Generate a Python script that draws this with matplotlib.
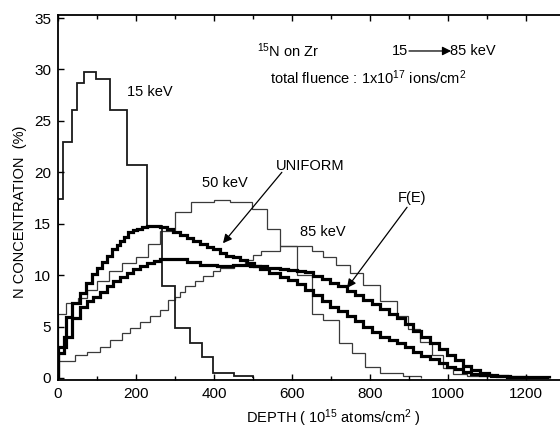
import matplotlib
matplotlib.use("Agg")
import matplotlib.pyplot as plt

plt.rcParams["font.family"] = ["Liberation Sans", "DejaVu Sans"]
plt.rcParams["mathtext.default"] = "regular"

# depth bin edges (1e15 atoms/cm2) and N concentration (%)
kev15_edges = [0, 8, 13, 36, 49, 67, 97, 133, 177, 228, 267, 300, 338, 369, 397, 450, 500]
kev15_vals = [17.4, 17.4, 22.9, 26.1, 28.7, 29.8, 29.1, 26.1, 20.7, 14.8, 8.9, 4.9, 3.4, 2.0, 0.5, 0.15]

kev50_edges = [0, 20, 50, 75, 100, 130, 165, 200, 230, 262, 300, 340, 400, 440, 497,
               536, 569, 613, 651, 680, 720, 754, 787, 826, 885, 930]
kev50_vals = [6.2, 7.3, 7.8, 8.6, 9.4, 10.4, 11.2, 11.8, 13.0, 14.3, 16.1, 17.1, 17.3, 17.1,
              16.4, 14.5, 12.8, 10.0, 6.2, 5.6, 3.4, 2.4, 1.1, 0.5, 0.2]

kev85_edges = [0, 44, 74, 108, 133, 164, 185, 210, 236, 262, 282, 300, 313, 326, 351, 372,
               397, 415, 450, 480, 500, 520, 569, 651, 680, 713, 749, 782, 826, 869, 897,
               928, 959, 987, 1013, 1049, 1100]
kev85_vals = [1.6, 2.2, 2.5, 3.0, 3.7, 4.4, 4.9, 5.4, 6.0, 6.6, 7.6, 7.9, 8.4, 8.9, 9.4,
              9.9, 10.4, 10.7, 11.0, 11.5, 12.0, 12.3, 12.8, 12.3, 11.8, 11.0, 10.2, 9.0,
              7.5, 6.0, 4.8, 3.5, 2.2, 1.0, 0.4, 0.15]

uniform_edges = [0, 20, 36, 56, 72, 87, 100, 113, 126, 138, 150, 159, 170, 179, 192, 203,
                 215, 228, 245, 262, 279, 296, 313, 330, 346, 364, 382, 398, 415, 432, 449,
                 467, 485, 502, 518, 540, 569, 591, 613, 634, 654, 676, 697, 719, 741, 762,
                 782, 804, 826, 848, 869, 890, 910, 932, 954, 976, 997, 1018, 1038, 1060,
                 1082, 1110, 1150, 1200]
uniform_vals = [3.0, 5.9, 7.3, 8.3, 9.2, 10.1, 10.7, 11.3, 11.9, 12.5, 12.9, 13.3, 13.7,
                14.2, 14.4, 14.5, 14.7, 14.8, 14.8, 14.7, 14.5, 14.2, 13.9, 13.6, 13.3,
                13.0, 12.7, 12.5, 12.2, 11.9, 11.8, 11.5, 11.2, 10.9, 10.6, 10.2, 9.8, 9.5,
                9.1, 8.6, 8.1, 7.5, 6.9, 6.5, 6.0, 5.5, 5.0, 4.5, 4.0, 3.7, 3.4, 3.0, 2.5,
                2.1, 1.8, 1.5, 1.1, 0.9, 0.6, 0.4, 0.3, 0.2, 0.1]

fe_edges = [0, 15, 36, 56, 75, 90, 108, 125, 142, 159, 176, 192, 210, 228, 245, 262, 295,
            330, 364, 408, 449, 492, 536, 569, 591, 613, 634, 654, 676, 697, 719, 741, 762,
            782, 804, 826, 848, 869, 890, 910, 932, 954, 976, 997, 1018, 1038, 1060, 1082,
            1104, 1126, 1160, 1200, 1260]
fe_vals = [2.4, 4.0, 5.8, 6.9, 7.5, 7.9, 8.4, 8.9, 9.4, 9.8, 10.2, 10.6, 10.9, 11.2, 11.4,
           11.6, 11.6, 11.3, 11.0, 10.9, 11.0, 10.9, 10.7, 10.6, 10.5, 10.4, 10.3, 9.9, 9.6,
           9.2, 8.9, 8.5, 8.1, 7.6, 7.2, 6.7, 6.2, 5.8, 5.2, 4.6, 4.0, 3.4, 2.8, 2.2, 1.7,
           1.2, 0.8, 0.5, 0.3, 0.2, 0.1, 0.05]

x_ticks = [0, 200, 400, 600, 800, 1000, 1200]
y_ticks = [0, 5, 10, 15, 20, 25, 30, 35]

fig = plt.figure(figsize=(5.6, 4.29), dpi=100)
ax = fig.add_axes([58 / 560, (429 - 380) / 429, 504 / 560, (380 - 15) / 429])

thin = dict(color="#3a3a3a", lw=0.9)
ax.stairs(kev50_vals, kev50_edges, **thin)
ax.stairs(kev85_vals, kev85_edges, **thin)
ax.stairs(kev15_vals, kev15_edges, color="#1a1a1a", lw=1.3)
ax.stairs(uniform_vals, uniform_edges, color="black", lw=2.3)
ax.stairs(fe_vals, fe_edges, color="black", lw=2.3)

ax.set_xlim(0, 504 / 0.39)
ax.set_ylim(-0.2, 35.3)
ax.set_xticks(x_ticks)
ax.set_xticks(range(100, 1300, 200), minor=True)
ax.set_yticks(y_ticks)
ax.tick_params(direction="in", top=True, length=4, width=1, labelsize=11, pad=5)
ax.tick_params(which="minor", direction="in", top=True, length=3, width=1)
ax.spines["right"].set_visible(False)
for s in ["left", "bottom", "top"]:
    ax.spines[s].set_linewidth(1.3)

fs = 10.5
ax.text(177, 27.8, "15 keV", fontsize=fs, va="center")
ax.text(369, 19.0, "50 keV", fontsize=fs, va="center")
ax.text(620, 14.2, "85 keV", fontsize=fs, va="center")
ax.text(559, 20.6, "UNIFORM", fontsize=fs, va="center")
ax.text(872, 17.5, "F(E)", fontsize=fs, va="center")
ax.text(510, 31.8, r"$^{15}$N on Zr", fontsize=fs, va="center")
ax.text(856, 31.8, "15", fontsize=fs, va="center")
ax.text(1005, 31.8, "85 keV", fontsize=fs, va="center")
ax.text(544, 29.2, r"total fluence : 1x10$^{17}$ ions/cm$^2$", fontsize=fs, va="center")

arrow = dict(arrowstyle="-|>", color="black", lw=0.9, mutation_scale=13, shrinkA=0, shrinkB=0)
ax.annotate("", xy=(1008, 31.8), xytext=(900, 31.8), arrowprops=arrow)
ax.annotate("", xy=(423, 13.1), xytext=(574, 20.0), arrowprops=arrow)
ax.annotate("", xy=(741, 8.75), xytext=(895, 16.6), arrowprops=arrow)

fig.text(20 / 560, 1 - 212 / 429, "N CONCENTRATION  (%)", rotation=90,
         ha="center", va="center", fontsize=10.5)
fig.text(333 / 560, 1 - 418 / 429, r"DEPTH ( 10$^{15}$ atoms/cm$^2$ )",
         ha="center", va="center", fontsize=10.5)

fig.savefig("out.png", dpi=100)
